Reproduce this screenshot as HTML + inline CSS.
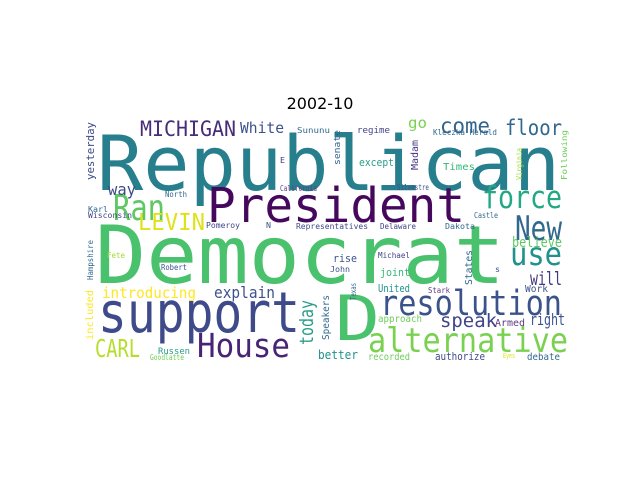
<!DOCTYPE html>
<html><head><meta charset="utf-8"><style>
html,body{margin:0;padding:0;background:#fff;width:640px;height:480px;overflow:hidden}
svg text{font-family:"DejaVu Sans Mono","Liberation Mono",monospace}
</style></head><body>
<svg id="c" width="640" height="480">
<text x="320" y="109" text-anchor="middle" font-family="DejaVu Sans" font-size="16" fill="#000" style="font-family:'DejaVu Sans',sans-serif">2002-10</text>
</svg>
<script>
// word, x, baseline y, width, font size, color, vertical
const words = ["Republican","President","Democrat","support","D","House","resolution","alternative","Ran","LEVIN","MICHIGAN","White","force","New","use","come","floor","will","believe","right","speak","today","explain","introducing","CARL","way","yesterday","Karl","Wisconsin","North","California","E","Pomeroy","N","Representatives","Sununu","regime","go","senate","except","Madam","Kleczka Herald","Times","Virginia","Following","Silvestre","Castle","Delaware","Dakota","Hampshire","Fete","Robert","included","Russen","Goodlatte","rise","John","Michael","Texas","joint","States","s","United","Stark","Work","approach","Armed","Speakers","better","recorded","authorize","Eyes","debate"];
const xs = [97,207,95,98,335,197,380,368,113,138,140,240,482,515,510,440,505,530,512,530,440,313,214,102,95,108,94,88,88,165,280,280,206,266,296,297,357,408,340,359,418,433,443,522,567,397,474,380,445,93,107,161,93,158,150,333,330,378,356,380,472,495,378,428,525,378,495,329,318,368,435,503,527];
const ys = [190,222,283,332,340,357,315,352,220,230,136,133,208,240,265,133,135,285,247,325,327,345,298,298,357,195,180,212,218,197,191,163,228,228,229,133,133,128,165,166,170,135,170,180,180,190,218,229,229,280,258,270,340,354,360,262,272,258,300,276,285,272,292,293,292,322,326,340,359,360,360,358,360];
const ws = [463,258,410,202,45,93,182,200,52,67,96,44,80,47,52,50,57,32,50,35,57,45,61,94,45,28,58,20,44,22,37,5,34,5,72,33,33,19,35,35,30,64,32,32,50,32,24,36,30,40,18,26,50,32,34,24,20,32,17,30,35,5,32,22,23,44,30,45,40,42,50,12,33];
const fs = [76,48,80,56,62,33,35,34,36,23,21,15,31,34,32,21,21,19,14,16,19,19,16,15,25,16,11,8,8,8,8,8,8,8,8,8,9,15,9,11,10,8,10,8,8,8,8,8,8,8,8,8,10,9,8,11,8,8,8,11,10,8,11,8,10,10,10,10,12,10,11,7,10];
const cs = ["#277f8e","#46085c","#4ac16d","#3e4a89","#4ac16d","#482475","#3b528b","#7ad151","#5ec962","#dde318","#472c7a","#3b528b","#22a884","#31688e","#21918c","#33638d","#31688e","#443983","#5ec962","#3b528b","#414487","#2a9d8a","#3b528b","#fde725","#b5de2b","#3e4a89","#3e4a89","#31688e","#414487","#31688e","#5c3c7f","#46337e","#414487","#3b528b","#3e4a89","#31688e","#414487","#7ad151","#33638d","#2a9d8a","#443983","#31688e","#35b779","#a0da39","#6ece58","#3b528b","#31688e","#414487","#31688e","#31688e","#a0da39","#3b528b","#fde725","#2a9d8a","#6ece58","#3b528b","#3b528b","#414487","#31688e","#35b779","#31688e","#3b528b","#21918c","#5c3c7f","#3b528b","#6ece58","#5c3c7f","#31688e","#21918c","#6ece58","#3e4a89","#dde318","#31688e"];
const vert = [0,0,0,0,0,0,0,0,0,0,0,0,0,0,0,0,0,0,0,0,0,1,0,0,0,0,1,0,0,0,0,0,0,0,0,0,0,0,1,0,1,0,0,1,1,0,0,0,0,1,0,0,1,0,0,0,0,0,1,0,1,0,0,0,0,0,0,1,0,0,0,0,0];
const svg = document.getElementById('c');
const NS = "http://www.w3.org/2000/svg";
words.forEach((w, i) => {
  const t = document.createElementNS(NS, 'text');
  
  
  t.setAttribute('font-size', fs[i]);
  t.setAttribute('fill', cs[i]);
  t.setAttribute('textLength', ws[i]);
  t.setAttribute('lengthAdjust', 'spacingAndGlyphs');
  if (vert[i]) {
    t.setAttribute('x', 0); t.setAttribute('y', 0);
    t.setAttribute('transform', 'translate(' + xs[i] + ',' + ys[i] + ') rotate(-90)');
  } else {
    t.setAttribute('x', xs[i]); t.setAttribute('y', ys[i]);
  }
  t.textContent = w;
  svg.appendChild(t);
});
</script>
</body></html>
